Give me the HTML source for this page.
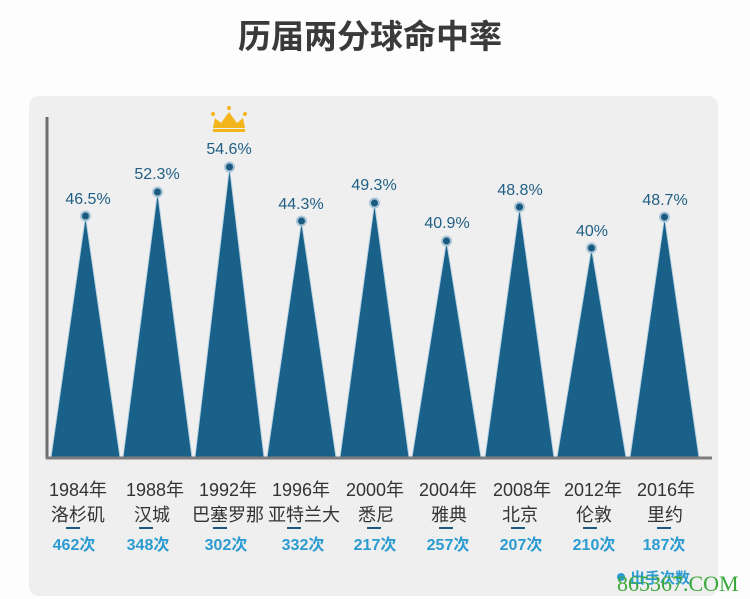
<!DOCTYPE html>
<html><head><meta charset="utf-8"><style>
body{margin:0;background:#fff;}
svg{display:block}
</style></head><body>
<svg width="750" height="599" viewBox="0 0 750 599" xmlns="http://www.w3.org/2000/svg" font-family="Liberation Sans, Noto Sans CJK SC, sans-serif">
<rect x="0" y="0" width="750" height="599" fill="#fdfdfd"/>
<text x="370" y="48" text-anchor="middle" font-size="33" font-weight="bold" fill="#3a3a3a" font-family="Noto Sans CJK SC, sans-serif">历届两分球命中率</text>
<rect x="29" y="96" width="689" height="500" rx="10" fill="#efefef"/>
<g>
<polygon points="51,457 85.5,216 120,457" fill="#1a6189" stroke="#b9d3e3" stroke-width="1"/>
<polygon points="123,457 157.5,192 192,457" fill="#1a6189" stroke="#b9d3e3" stroke-width="1"/>
<polygon points="195,457 229.5,167 264,457" fill="#1a6189" stroke="#b9d3e3" stroke-width="1"/>
<polygon points="267,457 301.5,221 336,457" fill="#1a6189" stroke="#b9d3e3" stroke-width="1"/>
<polygon points="340,457 374.5,203 409,457" fill="#1a6189" stroke="#b9d3e3" stroke-width="1"/>
<polygon points="412,457 446.5,241 481,457" fill="#1a6189" stroke="#b9d3e3" stroke-width="1"/>
<polygon points="485,457 519.5,207 554,457" fill="#1a6189" stroke="#b9d3e3" stroke-width="1"/>
<polygon points="557,457 591.5,248 626,457" fill="#1a6189" stroke="#b9d3e3" stroke-width="1"/>
<polygon points="630,457 664.5,217 699,457" fill="#1a6189" stroke="#b9d3e3" stroke-width="1"/>
</g>
<g fill="#1a5a80" stroke="#a9c4d6" stroke-width="2">
<circle cx="85.5" cy="216" r="4.5"/><circle cx="157.5" cy="192" r="4.5"/><circle cx="229.5" cy="167" r="4.5"/>
<circle cx="301.5" cy="221" r="4.5"/><circle cx="374.5" cy="203" r="4.5"/><circle cx="446.5" cy="241" r="4.5"/>
<circle cx="519.5" cy="207" r="4.5"/><circle cx="591.5" cy="248" r="4.5"/><circle cx="664.5" cy="217" r="4.5"/>
</g>
<g font-size="16" fill="#1f5f85" text-anchor="middle">
<text x="88" y="204">46.5%</text><text x="157" y="179">52.3%</text><text x="229" y="154">54.6%</text>
<text x="301" y="209">44.3%</text><text x="374" y="190">49.3%</text><text x="447" y="228">40.9%</text>
<text x="520" y="195">48.8%</text><text x="592" y="236">40%</text><text x="665" y="205">48.7%</text>
</g>
<g fill="#f2b51c">
<polygon points="213,128 215,118 221,123 229,112 237,123 243,118 245,128"/>
<rect x="213" y="129" width="32" height="3"/>
<circle cx="213" cy="114" r="2"/><circle cx="229" cy="108" r="2"/><circle cx="245" cy="114" r="2"/>
</g>
<line x1="47" y1="117" x2="47" y2="459" stroke="#6e6e6e" stroke-width="3"/>
<line x1="46" y1="458" x2="712" y2="458" stroke="#7d7d7d" stroke-width="3"/>
<g font-size="18" fill="#333" text-anchor="middle">
<text x="78" y="496">1984年</text><text x="155" y="496">1988年</text><text x="228" y="496">1992年</text>
<text x="301" y="496">1996年</text><text x="375" y="496">2000年</text><text x="448" y="496">2004年</text>
<text x="522" y="496">2008年</text><text x="593" y="496">2012年</text><text x="666" y="496">2016年</text>
<text x="78" y="521">洛杉矶</text><text x="152" y="521">汉城</text><text x="228" y="521">巴塞罗那</text>
<text x="304" y="521">亚特兰大</text><text x="376" y="521">悉尼</text><text x="449" y="521">雅典</text>
<text x="520" y="521">北京</text><text x="594" y="521">伦敦</text><text x="665" y="521">里约</text>
</g>
<g stroke="#1a5a80" stroke-width="2">
<line x1="66" y1="528" x2="80" y2="528"/><line x1="139" y1="528" x2="153" y2="528"/><line x1="213" y1="528" x2="227" y2="528"/>
<line x1="287" y1="528" x2="301" y2="528"/><line x1="367" y1="528" x2="381" y2="528"/><line x1="439" y1="528" x2="453" y2="528"/>
<line x1="511" y1="528" x2="525" y2="528"/><line x1="583" y1="528" x2="597" y2="528"/><line x1="657" y1="528" x2="671" y2="528"/>
</g>
<g font-size="16" font-weight="bold" fill="#2b9bd1" text-anchor="middle">
<text x="74" y="550">462次</text><text x="148" y="550">348次</text><text x="226" y="550">302次</text>
<text x="303" y="550">332次</text><text x="375" y="550">217次</text><text x="448" y="550">257次</text>
<text x="521" y="550">207次</text><text x="594" y="550">210次</text><text x="664" y="550">187次</text>
</g>
<circle cx="621" cy="577" r="4" fill="#2b9bd1"/>
<text x="630" y="583" font-size="15" font-weight="bold" fill="#2b9bd1">出手次数</text>
<text x="617" y="591" font-size="22" fill="#3aa83a" font-family="Liberation Serif, serif">865367.COM</text>
</svg>
</body></html>
